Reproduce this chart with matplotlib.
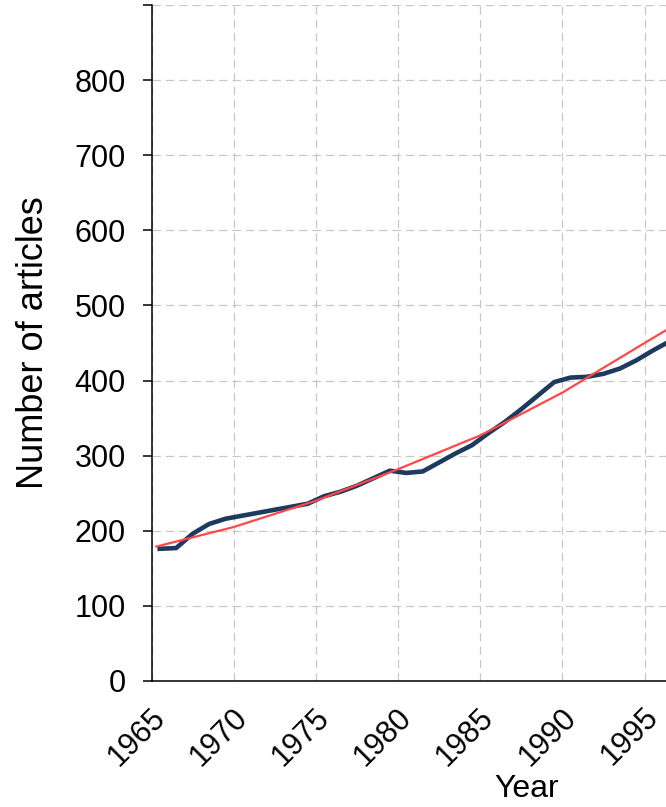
import numpy as np
import matplotlib
matplotlib.use("Agg")
import matplotlib.pyplot as plt
import matplotlib.transforms as mtransforms

plt.rcParams['font.family'] = ['Liberation Sans', 'DejaVu Sans']
plt.rcParams['lines.scale_dashes'] = False

# data
years = np.arange(1965, 1997)
articles = [176, 177, 196, 209, 216, 220, 224, 228, 232, 236,
            246, 252, 260, 270, 280, 277, 279, 291, 303, 314,
            330, 345, 362, 380, 398, 404, 405, 409, 416, 427,
            440, 452]
trend_years = [1965.3, 1970, 1975, 1980, 1985, 1990, 1995, 1996.3]
trend_values = [179, 205, 240, 282, 327, 384, 450, 467]
x_ticks = [1965, 1970, 1975, 1980, 1985, 1990, 1995]
x_ticklabels = ["1965", "1970", "1975", "1980", "1985", "1990", "1995"]
y_ticks = [0, 100, 200, 300, 400, 500, 600, 700, 800, 900]
y_ticklabels = ["0", "100", "200", "300", "400", "500", "600", "700", "800", ""]

xpos = years + 0.5
yvals = np.array(articles, dtype=float)

fig = plt.figure(figsize=(6.66, 8.07), dpi=100)
ax = fig.add_axes([151.5/666, 1-681/807, 1-151.5/666, (681-5)/807])

ax.plot(xpos, yvals, color='#1d3a5f', lw=3.3, solid_joinstyle='round', zorder=3)
ax.plot(trend_years, trend_values, color='#ff4747', lw=1.6, zorder=4)

ax.set_xlim(1965, 1996.3)
ax.set_ylim(0, 900)

ax.set_xticks(x_ticks)
ax.set_xticklabels(x_ticklabels, fontsize=22, rotation=45,
                   rotation_mode='anchor', ha='right', va='center')
ax.set_xticks([1965, 1975, 1985, 1995], minor=True)
ax.tick_params(axis='x', which='major', length=0, pad=23)
ax.tick_params(axis='x', which='minor', length=6, width=1.1, direction='out')
ax.set_yticks(y_ticks)
ax.set_yticklabels(y_ticklabels, fontsize=22)
ax.tick_params(axis='y', which='major', length=6.5, width=1.1, pad=12)

offset = mtransforms.ScaledTranslation(6.5/72, 0, fig.dpi_scale_trans)
for lab in ax.get_xticklabels():
    lab.set_transform(lab.get_transform() + offset)

ax.grid(True, which='major', color='#c8c8c8', lw=0.9, linestyle=(0, (6, 3.6)))
ax.set_axisbelow(True)

for s in ['top', 'right']:
    ax.spines[s].set_visible(False)
for s in ['left', 'bottom']:
    ax.spines[s].set_linewidth(1.1)
    ax.spines[s].set_color('black')

ax.set_ylabel("Number of articles", fontsize=26, va='center')
ax.yaxis.set_label_coords(-0.23, 0.5)
ax.set_xlabel("Year", fontsize=23, va='center')
ax.xaxis.set_label_coords(0.73, -0.16)

fig.savefig("out.png", dpi=100)
